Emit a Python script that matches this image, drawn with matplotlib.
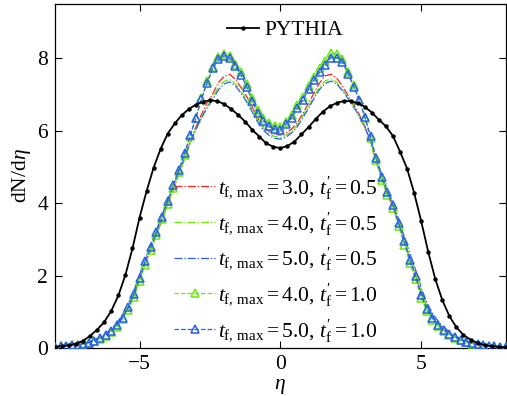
import numpy as np
import matplotlib
matplotlib.use("Agg")
import matplotlib.pyplot as plt

plt.rcParams['font.family'] = ['Liberation Serif', 'DejaVu Serif']
plt.rcParams['mathtext.fontset'] = 'custom'
plt.rcParams['mathtext.rm'] = 'Liberation Serif'
plt.rcParams['mathtext.it'] = 'Liberation Serif:italic'
plt.rcParams['mathtext.bf'] = 'Liberation Serif:bold'

# PYTHIA grid (step 0.25)
eta_p = [-8.0, -7.75, -7.5, -7.25, -7.0, -6.75, -6.5, -6.25, -6.0, -5.75, -5.5, -5.25,
         -5.0, -4.75, -4.5, -4.25, -4.0, -3.75, -3.5, -3.25, -3.0, -2.75, -2.5, -2.25,
         -2.0, -1.75, -1.5, -1.25, -1.0, -0.75, -0.5, -0.25, 0.0, 0.25, 0.5, 0.75,
         1.0, 1.25, 1.5, 1.75, 2.0, 2.25, 2.5, 2.75, 3.0, 3.25, 3.5, 3.75,
         4.0, 4.25, 4.5, 4.75, 5.0, 5.25, 5.5, 5.75, 6.0, 6.25, 6.5, 6.75,
         7.0, 7.25, 7.5, 7.75, 8.0]

pythia = [0.03, 0.05, 0.08, 0.12, 0.20, 0.34, 0.51, 0.72, 1.03, 1.45, 2.02, 2.75,
          3.60, 4.33, 4.98, 5.50, 5.92, 6.20, 6.43, 6.60, 6.72, 6.80, 6.84, 6.82,
          6.74, 6.60, 6.44, 6.25, 6.03, 5.84, 5.65, 5.56, 5.52, 5.58, 5.70, 5.90,
          6.10, 6.32, 6.52, 6.67, 6.77, 6.82, 6.82, 6.76, 6.66, 6.50, 6.30, 6.12,
          5.85, 5.42, 4.95, 4.28, 3.50, 2.65, 1.90, 1.32, 0.88, 0.57, 0.36, 0.23,
          0.14, 0.08, 0.05, 0.03, 0.02]

# model grid (step 0.2)
eta_m = [-8.0, -7.8, -7.6, -7.4, -7.2, -7.0, -6.8, -6.6, -6.4, -6.2,
         -6.0, -5.8, -5.6, -5.4, -5.2, -5.0, -4.8, -4.6, -4.4, -4.2,
         -4.0, -3.8, -3.6, -3.4, -3.2, -3.0, -2.8, -2.6, -2.4, -2.2,
         -2.0, -1.8, -1.6, -1.4, -1.2, -1.0, -0.8, -0.6, -0.4, -0.2,
         0.0, 0.2, 0.4, 0.6, 0.8, 1.0, 1.2, 1.4, 1.6, 1.8,
         2.0, 2.2, 2.4, 2.6, 2.8, 3.0, 3.2, 3.4, 3.6, 3.8,
         4.0, 4.2, 4.4, 4.6, 4.8, 5.0, 5.2, 5.4, 5.6, 5.8,
         6.0, 6.2, 6.4, 6.6, 6.8, 7.0, 7.2, 7.4, 7.6, 7.8, 8.0]

tf3_t05 = [0.04, 0.05, 0.06, 0.07, 0.09, 0.12, 0.15, 0.20, 0.27, 0.36,
           0.48, 0.64, 0.85, 1.12, 1.47, 1.90, 2.33, 2.72, 3.12, 3.54,
           3.95, 4.38, 4.80, 5.25, 5.70, 6.10, 6.45, 6.78, 7.02, 7.33,
           7.50, 7.56, 7.42, 7.20, 6.95, 6.66, 6.34, 6.12, 5.98, 5.90,
           5.88, 5.93, 6.05, 6.22, 6.48, 6.76, 7.05, 7.33, 7.52, 7.56,
           7.45, 7.24, 6.98, 6.74, 6.45, 6.12, 5.68, 5.15, 4.65, 4.25,
           3.90, 3.42, 2.94, 2.46, 2.02, 1.52, 1.15, 0.87, 0.66, 0.51,
           0.40, 0.31, 0.23, 0.17, 0.13, 0.10, 0.08, 0.06, 0.05, 0.04, 0.03]

tf4_t05 = [0.04, 0.05, 0.06, 0.07, 0.09, 0.12, 0.15, 0.20, 0.27, 0.36,
           0.48, 0.64, 0.86, 1.13, 1.48, 1.92, 2.35, 2.74, 3.14, 3.56,
           3.97, 4.40, 4.80, 5.22, 5.65, 6.04, 6.38, 6.68, 6.92, 7.20,
           7.36, 7.42, 7.30, 7.10, 6.86, 6.58, 6.28, 6.06, 5.92, 5.84,
           5.82, 5.87, 5.99, 6.16, 6.42, 6.68, 6.96, 7.22, 7.38, 7.43,
           7.34, 7.15, 6.92, 6.68, 6.40, 6.08, 5.66, 5.15, 4.66, 4.27,
           3.92, 3.44, 2.96, 2.48, 2.05, 1.55, 1.17, 0.89, 0.68, 0.52,
           0.41, 0.31, 0.23, 0.17, 0.13, 0.10, 0.08, 0.06, 0.05, 0.04, 0.03]

tf5_t05 = [0.04, 0.05, 0.06, 0.08, 0.10, 0.13, 0.17, 0.23, 0.30, 0.40,
           0.53, 0.70, 0.93, 1.22, 1.58, 2.02, 2.46, 2.86, 3.26, 3.68,
           4.08, 4.50, 4.88, 5.28, 5.68, 6.04, 6.35, 6.63, 6.86, 7.13,
           7.29, 7.35, 7.24, 7.04, 6.80, 6.52, 6.23, 6.01, 5.87, 5.79,
           5.77, 5.82, 5.94, 6.11, 6.36, 6.62, 6.90, 7.15, 7.31, 7.37,
           7.29, 7.11, 6.89, 6.66, 6.40, 6.10, 5.72, 5.25, 4.78, 4.38,
           4.02, 3.55, 3.07, 2.60, 2.16, 1.66, 1.26, 0.96, 0.74, 0.57,
           0.45, 0.34, 0.26, 0.19, 0.14, 0.11, 0.08, 0.06, 0.05, 0.04, 0.03]

tf4_t10 = [0.04, 0.05, 0.05, 0.07, 0.08, 0.11, 0.14, 0.18, 0.24, 0.33,
           0.44, 0.59, 0.80, 1.05, 1.40, 1.84, 2.30, 2.70, 3.12, 3.55,
           3.98, 4.43, 4.86, 5.33, 5.85, 6.35, 6.90, 7.36, 7.76, 8.03,
           8.12, 8.07, 7.84, 7.62, 7.30, 6.90, 6.56, 6.36, 6.20, 6.12,
           6.10, 6.25, 6.44, 6.70, 6.93, 7.23, 7.49, 7.72, 7.93, 8.14,
           8.13, 7.98, 7.63, 7.25, 6.86, 6.36, 5.80, 5.18, 4.65, 4.22,
           3.86, 3.36, 2.85, 2.34, 1.90, 1.38, 1.02, 0.78, 0.60, 0.47,
           0.37, 0.29, 0.21, 0.16, 0.12, 0.09, 0.07, 0.06, 0.05, 0.04, 0.03]

tf5_t10 = [0.04, 0.05, 0.06, 0.07, 0.09, 0.12, 0.15, 0.20, 0.27, 0.37,
           0.48, 0.64, 0.84, 1.12, 1.48, 1.93, 2.39, 2.78, 3.20, 3.63,
           4.05, 4.50, 4.92, 5.38, 5.88, 6.35, 6.88, 7.32, 7.72, 7.98,
           8.07, 8.02, 7.78, 7.55, 7.22, 6.82, 6.48, 6.28, 6.12, 6.05,
           6.03, 6.18, 6.36, 6.62, 6.85, 7.15, 7.40, 7.62, 7.82, 8.02,
           8.02, 7.90, 7.58, 7.22, 6.85, 6.38, 5.85, 5.25, 4.72, 4.30,
           3.95, 3.45, 2.95, 2.44, 1.98, 1.45, 1.08, 0.83, 0.64, 0.50,
           0.40, 0.31, 0.22, 0.17, 0.13, 0.10, 0.08, 0.06, 0.05, 0.04, 0.03]

labels = [r'$t_{\mathrm{f,\,max}}=3.0,\,t^{\prime}_{\mathrm{f}}=0.5$',
          r'$t_{\mathrm{f,\,max}}=4.0,\,t^{\prime}_{\mathrm{f}}=0.5$',
          r'$t_{\mathrm{f,\,max}}=5.0,\,t^{\prime}_{\mathrm{f}}=0.5$',
          r'$t_{\mathrm{f,\,max}}=4.0,\,t^{\prime}_{\mathrm{f}}=1.0$',
          r'$t_{\mathrm{f,\,max}}=5.0,\,t^{\prime}_{\mathrm{f}}=1.0$']

fig = plt.figure(figsize=(5.07, 3.96), dpi=100)
ax = fig.add_axes([0.1085, 0.1212, 0.889, 0.8687])

red = '#ff2020'
green = '#66ee00'
blue = '#2a5ff0'
FS = 15.5

h_p, = ax.plot(eta_p, pythia, '-', color='black', lw=1.3, marker='o', ms=2.2, zorder=5)
h1, = ax.plot(eta_m, tf3_t05, '-.', color=red, lw=0.9, zorder=3)
h2, = ax.plot(eta_m, tf4_t05, '-.', color=green, lw=0.9, zorder=3)
h3, = ax.plot(eta_m, tf5_t05, '-.', color=blue, lw=0.9, zorder=3)
h4, = ax.plot(eta_m, tf4_t10, '--', color=green, lw=0.9, marker='^', ms=6,
              mfc='none', mew=1.1, zorder=4)
h5, = ax.plot(eta_m, tf5_t10, '--', color=blue, lw=0.9, marker='^', ms=6,
              mfc='none', mew=1.1, zorder=4)

ax.set_xlim(-8, 8)
ax.set_ylim(0, 9.5)
ax.set_xticks([-5, 0, 5])
ax.set_yticks([0, 2, 4, 6, 8])
ax.tick_params(direction='in', top=True, right=True, length=5, width=0.8,
               labelsize=FS, pad=5)
for s in ax.spines.values():
    s.set_linewidth(0.9)

ax.set_xlabel(r'$\eta$', fontsize=FS, labelpad=2)
ax.set_ylabel(r'dN/d$\eta$', fontsize=FS, labelpad=3)

leg1 = ax.legend([h_p], ['PYTHIA'], loc='upper center', bbox_to_anchor=(0.511, 0.965),
                 frameon=False, fontsize=FS, handlelength=1.5, handletextpad=0.25,
                 borderpad=0.2, borderaxespad=0)
ax.add_artist(leg1)
ax.legend([h1, h2, h3, h4, h5], labels, loc='lower left',
          bbox_to_anchor=(0.255, 0.0), frameon=False, fontsize=FS,
          handlelength=1.9, handletextpad=0.15, labelspacing=0.42, borderpad=0.2,
          borderaxespad=0)

fig.savefig('out.png', dpi=100)
